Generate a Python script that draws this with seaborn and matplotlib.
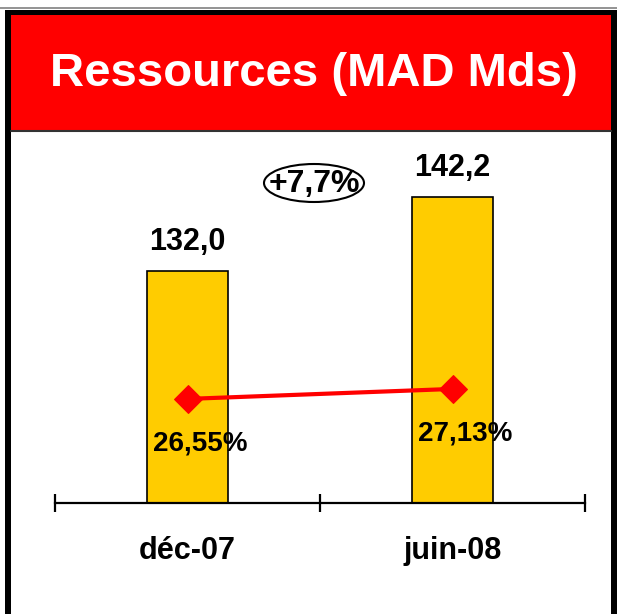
import numpy as np
import pandas as pd
import seaborn as sns
import matplotlib.pyplot as plt
from matplotlib.patches import Rectangle, Ellipse
from matplotlib.lines import Line2D

# Data
periods = ['déc-07', 'juin-08']
ressources = [132.0, 142.2]
part_marche = [26.55, 27.13]
res_labels = ['132,0', '142,2']
pdm_labels = ['26,55%', '27,13%']
growth_label = '+7,7%'

df = pd.DataFrame({'period': periods, 'ressources': ressources, 'pdm': part_marche})

sns.set_style('white')
plt.rcParams['font.family'] = ['Liberation Sans', 'DejaVu Sans']
plt.rcParams['text.color'] = 'black'
plt.rcParams['xtick.color'] = 'black'

W, H = 617, 614
fig = plt.figure(figsize=(W / 100, H / 100), dpi=100)

# Frame and title banner (figure pixel coords -> fraction)
def fx(x):
    return x / W

def fy(y):
    return 1 - y / H

fig.add_artist(Line2D([0, 1], [fy(8), fy(8)], color='#808080', lw=1.2, transform=fig.transFigure))
fig.add_artist(Rectangle((fx(5), 0), 1 - fx(5), fy(10), transform=fig.transFigure,
                         facecolor='black', edgecolor='none', zorder=0))
fig.add_artist(Rectangle((fx(11), 0), fx(611) - fx(11), fy(15), transform=fig.transFigure,
                         facecolor='white', edgecolor='none', zorder=0))
fig.add_artist(Rectangle((fx(11), fy(131)), fx(611) - fx(11), fy(15) - fy(131),
                         transform=fig.transFigure, facecolor='#FF0000', edgecolor='none', zorder=1))
fig.add_artist(Line2D([fx(11), fx(611)], [fy(131), fy(131)], color='#333333', lw=1.5,
                      transform=fig.transFigure, zorder=2))
fig.text(fx(314), fy(74), 'Ressources (MAD Mds)', color='white', fontsize=34,
         fontweight='bold', ha='center', va='center', zorder=3)

# Main axes
ax = fig.add_axes([fx(55), 1 - 503 / H, (585 - 55) / W, (503 - 140) / H])
ax.patch.set_alpha(0)
sns.barplot(data=df, x='period', y='ressources', color='#FFCC00', edgecolor='black',
            linewidth=1.2, width=0.305, saturation=1, ax=ax)
ax.set_xlim(-0.5, 1.5)
ax.set_ylim(100, 150)
ax.set_xlabel('')
ax.set_ylabel('')
ax.set_yticks([])
for s in ['left', 'right', 'top']:
    ax.spines[s].set_visible(False)
ax.spines['bottom'].set_linewidth(1.6)
ax.spines['bottom'].set_color('black')

ax.set_xticks([-0.5, 0.5, 1.5])
ax.set_xticklabels([])
ax.tick_params(axis='x', which='major', bottom=True, direction='inout', length=13,
               width=1.6, color='black')
ax.set_xticks([0, 1], minor=True)
ax.set_xticklabels(periods, minor=True, fontsize=22, fontweight='bold')
ax.tick_params(axis='x', which='minor', bottom=True, length=0, pad=24)

for i, (v, lab) in enumerate(zip(ressources, res_labels)):
    ax.annotate(lab, (i, v), xytext=(0, 10), textcoords='offset points',
                ha='center', va='bottom', fontsize=22, fontweight='bold')

# Secondary axis for market share
ax2 = ax.twinx()
sns.lineplot(x=[0, 1], y=part_marche, ax=ax2, color='#FF0000', lw=3, marker='D',
             markersize=14, markeredgecolor='#FF0000')
ax2.set_ylim(20.5, 41.6)
ax2.set_xlim(-0.5, 1.5)
ax2.axis('off')
for i, (v, lab) in enumerate(zip(part_marche, pdm_labels)):
    ax2.annotate(lab, (i, v), xytext=(9, -32), textcoords='offset points',
                 ha='center', va='center', fontsize=20, fontweight='bold')

# Growth ellipse
fig.add_artist(Ellipse((fx(314), fy(183)), 100 / W, 38 / H, transform=fig.transFigure,
                       facecolor='white', edgecolor='black', lw=1.5, zorder=3))
fig.text(fx(314), fy(184), growth_label, fontsize=23, fontweight='bold',
         ha='center', va='center', zorder=4)

fig.savefig('out.png', dpi=100)
